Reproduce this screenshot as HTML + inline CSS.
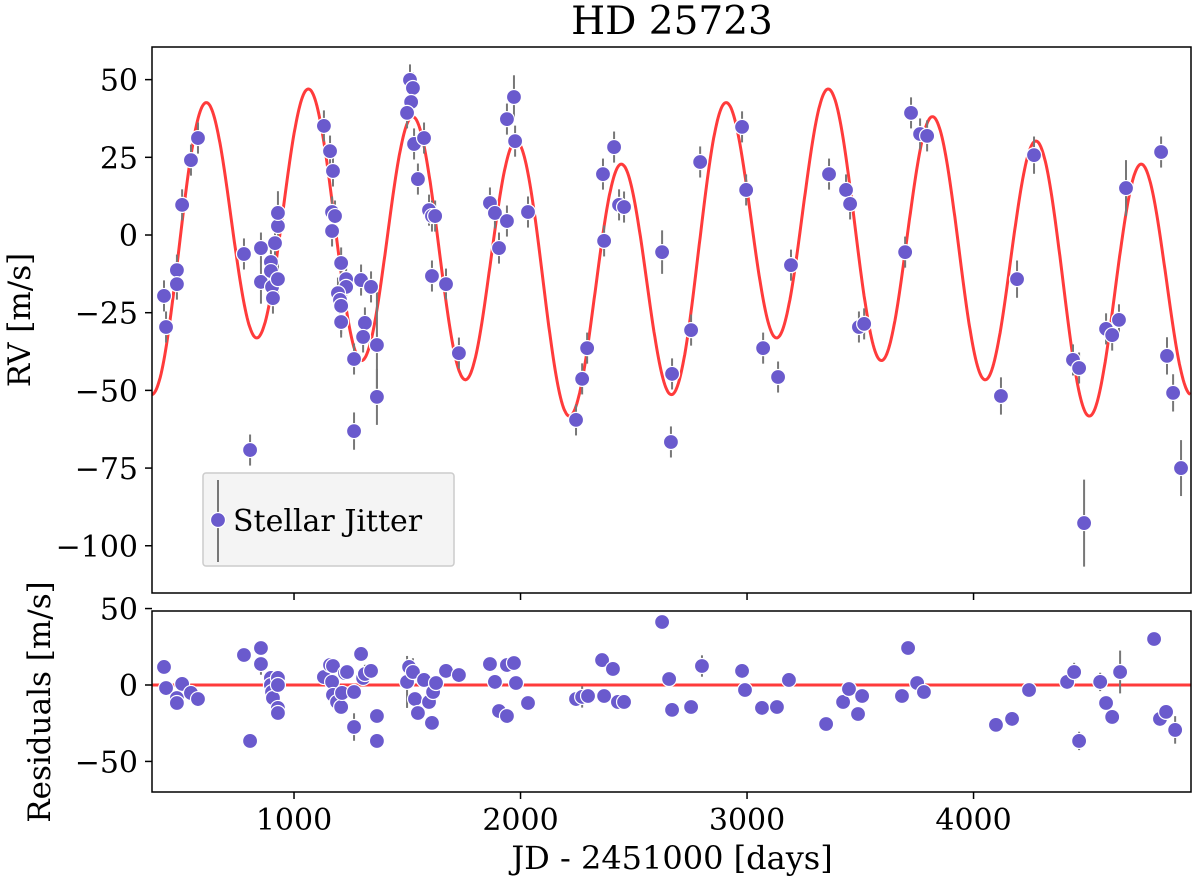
<!DOCTYPE html>
<html><head><meta charset="utf-8"><style>
html,body{margin:0;padding:0;background:#fff;}
svg{display:block;font-family:"DejaVu Serif","Liberation Serif",serif;}
</style></head><body>
<svg id="chart" width="1200" height="886" viewBox="0 0 1200 886" xmlns="http://www.w3.org/2000/svg">
<text x="672" y="34" font-size="39" text-anchor="middle">HD 25723</text>
<text transform="translate(30,320) rotate(-90)" font-size="31" text-anchor="middle">RV [m/s]</text>
<text transform="translate(50,702) rotate(-90)" font-size="31" text-anchor="middle">Residuals [m/s]</text>
<text x="672" y="869" font-size="32" text-anchor="middle">JD - 2451000 [days]</text>
<g id="topPanel"></g>
<g id="botPanel"></g>
</svg>
<script>
// ---- data ----
const rvTimes=[426,435,483,483,506,545,576,779,806,854,854,898,898,903,907,916,929,929,929,1132,1159,1172,1168,1181,1168,1208,1230,1230,1194,1203,1208,1208,1265,1265,1296,1340,1313,1305,1366,1366,1512,1525,1517,1499,1530,1574,1547,1596,1609,1623,1609,1671,1728,1865,1887,1940,1905,1940,1971,1976,2033,2245,2272,2294,2364,2369,2413,2435,2457,2625,2664,2669,2753,2793,2978,2996,3071,3137,3194,3362,3437,3455,3494,3517,3698,3724,3764,3795,4121,4192,4267,4439,4466,4488,4585,4612,4642,4673,4828,4854,4881,4916];
const rvValues=[-19.6,-29.6,-11.3,-15.8,9.7,24.1,31.2,-6.1,-69.2,-4.2,-15.1,-8.7,-11.6,-16.7,-20.3,-2.6,2.9,7.1,-14.2,35.1,27.0,20.6,7.4,6.1,1.3,-9.0,-14.2,-16.7,-18.7,-20.9,-22.8,-28.0,-39.9,-63.1,-14.5,-16.7,-28.3,-32.8,-35.4,-52.1,49.9,47.3,42.8,39.3,29.3,31.2,18.0,8.0,6.1,6.1,-13.2,-15.8,-38.0,10.3,7.1,4.5,-4.2,37.3,44.4,30.2,7.4,-59.5,-46.3,-36.4,19.6,-1.9,28.3,9.7,9.0,-5.5,-66.6,-44.7,-30.6,23.5,34.8,14.5,-36.4,-45.7,-9.7,19.6,14.5,10.0,-29.6,-28.6,-5.5,39.3,32.5,31.9,-51.8,-14.2,25.7,-40.2,-42.8,-92.7,-30.2,-32.2,-27.3,15.1,26.7,-38.9,-50.8,-75.0];
const rvErrors=[5,5,5,5,5,5,5,5,5,5,7,5,5,5,5,5,5,7,5,5,5,5,5,5,5,5,5,5,5,5,9,5,5,6,5,5,5,5,17,9,5,5,5,5,5,5,5,5,5,5,5,5,5,5,5,5,5,5,7,5,5,5,5,5,5,5,5,5,5,7,5,5,5,5,5,5,5,5,5,5,5,5,5,5,5,5,5,5,6,6,6,5,5,14,5,5,5,9,5,6,6,9];
const resTimes=[426,435,483,483,506,545,576,779,806,854,854,898,898,903,907,929,929,929,929,1132,1159,1172,1168,1172,1190,1208,1212,1225,1234,1265,1265,1296,1305,1313,1340,1366,1366,1508,1499,1525,1534,1547,1574,1596,1614,1609,1627,1671,1728,1865,1887,1905,1940,1940,1971,1980,2033,2245,2272,2298,2360,2369,2408,2430,2457,2625,2656,2669,2753,2801,2978,2991,3066,3132,3185,3349,3424,3450,3490,3508,3684,3711,3751,3781,4099,4170,4245,4413,4444,4466,4559,4585,4612,4647,4797,4823,4850,4890];
const resValues=[11.8,-2.0,-8.5,-11.8,0.7,-5.2,-9.2,19.6,-36.6,24.2,13.7,4.6,0,-4.6,-8.5,4.6,0,-15.0,-18.3,5.2,13.1,12.4,2.0,-6.5,-11.1,-14.4,-5.2,7.8,8.5,-4.6,-27.5,20.3,4.6,7.2,9.2,-20.3,-36.6,11.8,2.0,8.5,-9.2,-18.3,3.3,-11.1,-4.6,-24.8,1.3,9.2,6.5,13.7,2.0,-17.0,-20.3,13.1,14.4,1.3,-11.8,-9.2,-7.8,-7.2,16.3,-7.2,10.5,-11.1,-11.1,41.2,3.9,-16.3,-14.4,12.4,9.2,-3.3,-15.0,-14.4,3.3,-25.5,-11.1,-2.6,-19.0,-7.2,-7.2,24.2,1.3,-4.6,-26.1,-22.2,-3.3,2.0,8.5,-36.6,2.0,-11.8,-20.9,8.5,30.1,-22.2,-17.6,-29.4];
const xTicks=[1000,2000,3000,4000];
const rvTicks=[50,25,0,-25,-50,-75,-100];
const resTicks=[50,0,-50];
// model parameters (sum of periodic terms)
const modelOffset=-4.9;
const innerParams=[41,459,607];           // K, period, time of peak
const outerParams=[2295,713];             // period, reference time
const outerFourier=[6.54,9.58,3.86,0.67]; // a1,b1,a2,b2

// ---- axes ----
const X0=152,X1=1191;
const xMin=373,xMax=4960;
const T0=47,T1=593, tMin=-115.2,tMax=60.5;
const B0=611,B1=792, bMin=-70,bMax=48.4;
const sx=t=>X0+(t-xMin)/(xMax-xMin)*(X1-X0);
const syT=v=>T1-(v-tMin)/(tMax-tMin)*(T1-T0);
const syB=v=>B1-(v-bMin)/(bMax-bMin)*(B1-B0);
function model(t){
  const w=2*Math.PI*(t-innerParams[2])/innerParams[1];
  const p=2*Math.PI*(t-outerParams[1])/outerParams[0];
  return modelOffset+innerParams[0]*Math.cos(w)+outerFourier[0]*Math.cos(p)+outerFourier[1]*Math.sin(p)+outerFourier[2]*Math.cos(2*p)+outerFourier[3]*Math.sin(2*p);
}
const NS="http://www.w3.org/2000/svg";
function mk(tag,attrs,parent){const e=document.createElementNS(NS,tag);for(const k in attrs)e.setAttribute(k,attrs[k]);parent.appendChild(e);return e;}
const topG=document.getElementById('topPanel'),botG=document.getElementById('botPanel');

function panel(g,y0,y1,ticks,sy,withLabels,name){
  const cp=mk('clipPath',{id:'clip-'+name},g);
  mk('rect',{x:X0,y:y0,width:X1-X0,height:y1-y0},cp);
  xTicks.forEach(t=>{
    const l=mk('line',{x1:sx(t),x2:sx(t),y1:y1,y2:y1+7,stroke:'#000','stroke-width':1.5},g);
    
    
    if(withLabels){
      const tx=mk('text',{x:sx(t),y:y1+38,'font-size':30,'text-anchor':'middle'},g);
      tx.textContent=t;
      
      
    }
  });
  ticks.forEach(v=>{
    const l=mk('line',{x1:X0-7,x2:X0,y1:sy(v),y2:sy(v),stroke:'#000','stroke-width':1.5},g);
    
    
    const tx=mk('text',{x:X0-14,y:sy(v)+11,'font-size':30,'text-anchor':'end'},g);
    tx.textContent=v<0?'\u2212'+(-v):v;
    
    
  });
}
panel(topG,T0,T1,rvTicks,syT,false,'top');
panel(botG,B0,B1,resTicks,syB,true,'bot');

// model curve
let d='';
for(let t=xMin;t<=xMax;t+=4){d+=(d?'L':'M')+sx(t).toFixed(1)+','+syT(model(t)).toFixed(1);}
const curve=mk('path',{d:d,fill:'none',stroke:'#ff3b3b','stroke-width':3,'clip-path':'url(#clip-top)'},topG);


const zl=mk('line',{x1:X0,x2:X1,y1:syB(0),y2:syB(0),stroke:'#ff3b3b','stroke-width':3},botG);



function points(g,ts,vs,errs,sy,name){
  ts.forEach((t,i)=>{
    const e=errs[i]||5;
    const b=mk('line',{x1:sx(t),x2:sx(t),y1:sy(vs[i]-e),y2:sy(vs[i]+e),stroke:'#777','stroke-width':2,'clip-path':'url(#clip-'+name+')'},g);
    
    
  });
  ts.forEach((t,i)=>{
    const c=mk('circle',{cx:sx(t),cy:sy(vs[i]),r:7.5,fill:'#6a5acd',stroke:'#fff','stroke-width':1.2},g);
    
    
  });
}
points(topG,rvTimes,rvValues,rvErrors,syT,'top');
points(botG,resTimes,resValues,rvErrors,syB,'bot');

// frames
[[T0,T1,topG],[B0,B1,botG]].forEach(([a,b,g])=>{
  const r=mk('rect',{x:X0,y:a,width:X1-X0,height:b-a,fill:'none',stroke:'#000','stroke-width':1.5},g);
  
  
});

// legend
const lg=mk('g',{},topG);


mk('rect',{x:203,y:473,width:251,height:93,fill:'#f4f4f4',stroke:'#ccc','stroke-width':1.5,rx:3},lg);
mk('line',{x1:218,x2:218,y1:480,y2:562,stroke:'#777','stroke-width':2},lg);
mk('circle',{cx:218,cy:520,r:7.5,fill:'#6a5acd',stroke:'#fff','stroke-width':1.2},lg);
const lt=mk('text',{x:233,y:531,'font-size':30},lg);
lt.textContent='Stellar Jitter';


</script>
</body></html>
